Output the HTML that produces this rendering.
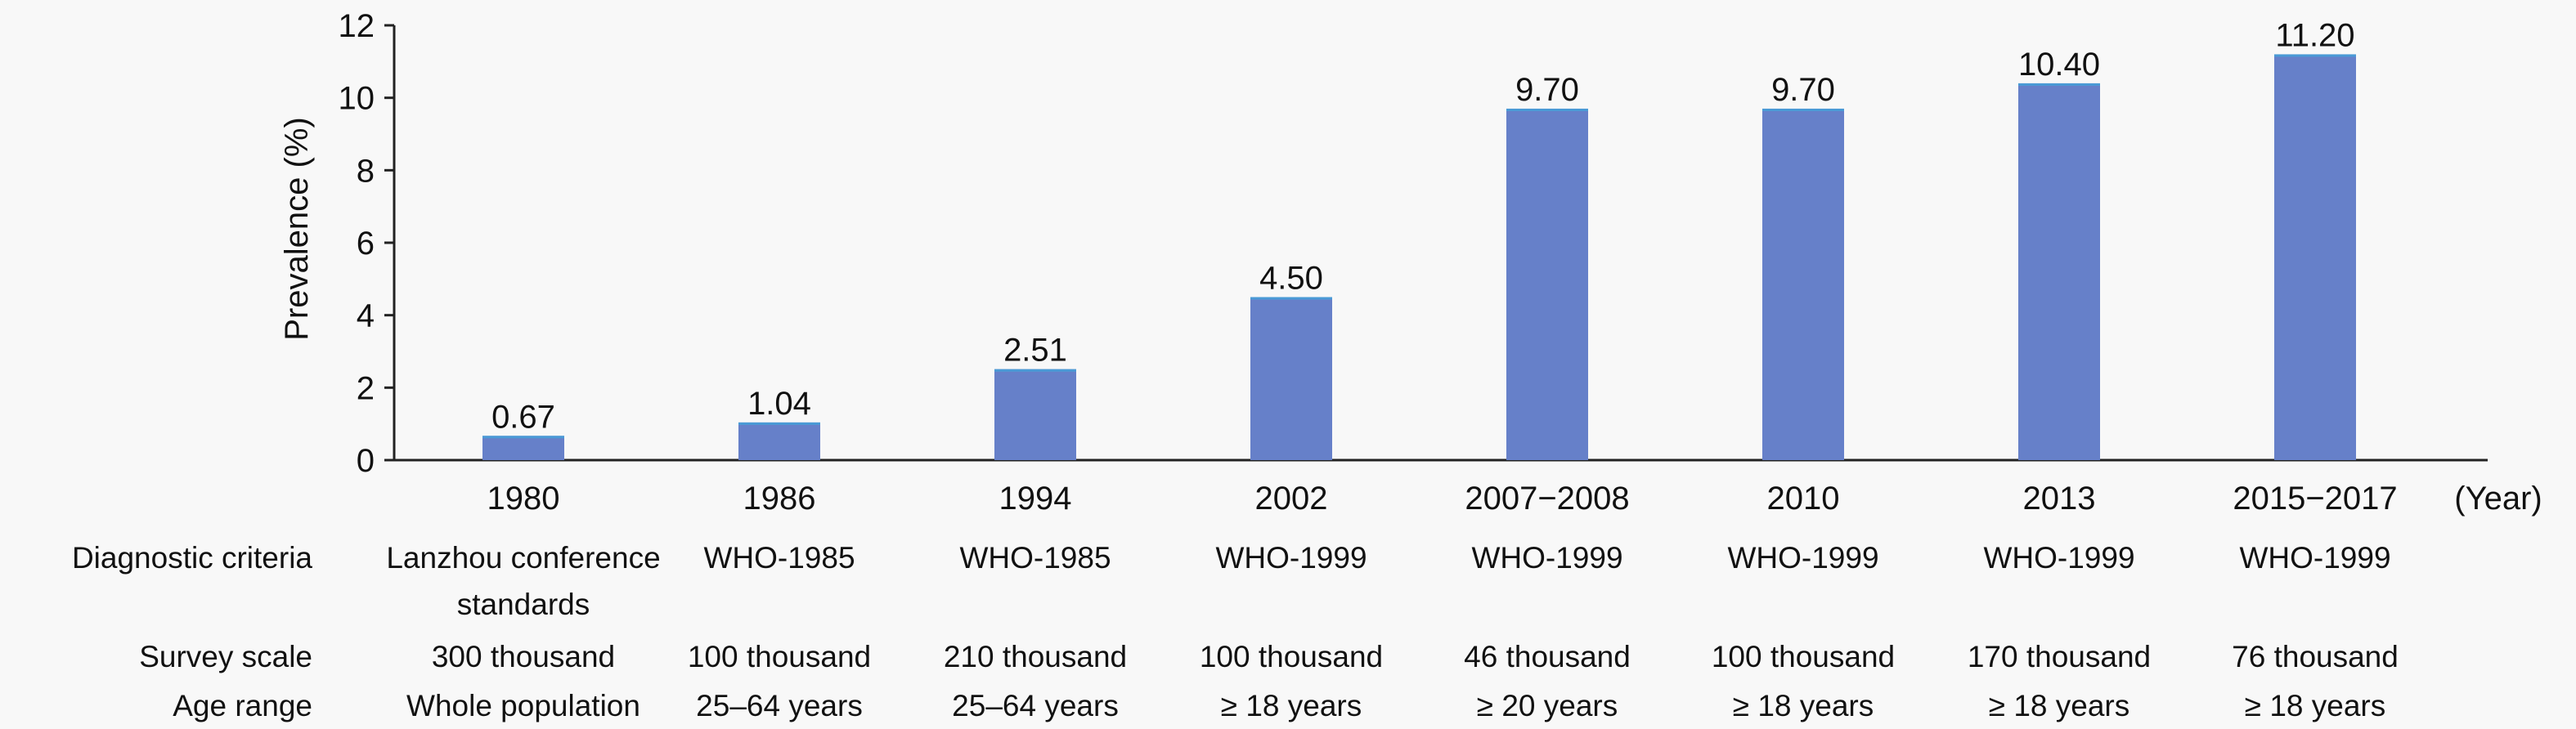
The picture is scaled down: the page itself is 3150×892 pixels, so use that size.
<!DOCTYPE html>
<html><head><meta charset="utf-8"><style>
html,body{margin:0;padding:0;background:#f8f8f8;}
svg{display:block;font-family:"Liberation Sans",sans-serif;}
</style></head><body>
<svg id="chart" width="3150" height="892" viewBox="0 0 3150 892" xmlns="http://www.w3.org/2000/svg">
<rect x="0" y="0" width="3150" height="892" fill="#f8f8f8"/>
<g id="axes"></g>
<g id="bars"></g>
<g id="table"></g>
</svg>
<script>
const categories = ["1980","1986","1994","2002","2007\u22122008","2010","2013","2015\u22122017"];
const values = [0.67,1.04,2.51,4.50,9.70,9.70,10.40,11.20];
const valueLabels = ["0.67","1.04","2.51","4.50","9.70","9.70","10.40","11.20"];
const yTicks = [0,2,4,6,8,10,12];
const criteria = ["Lanzhou conference|standards","WHO-1985","WHO-1985","WHO-1999","WHO-1999","WHO-1999","WHO-1999","WHO-1999"];
const scales = ["300 thousand","100 thousand","210 thousand","100 thousand","46 thousand","100 thousand","170 thousand","76 thousand"];
const ages = ["Whole population","25\u201364 years","25\u201364 years","\u2265 18 years","\u2265 20 years","\u2265 18 years","\u2265 18 years","\u2265 18 years"];

const NS="http://www.w3.org/2000/svg";
const X0=482, X1=3042, Y0=563, Y1=31, yMax=12;
const first=640, step=313, bw=100;
const y = v => Y0 - (v/yMax)*(Y0-Y1);
const x = i => first + i*step;
function mk(tag, attrs, parent, text){
  const e=document.createElementNS(NS,tag);
  for(const k in attrs) e.setAttribute(k, attrs[k]);
  if(text!==undefined) e.textContent=text;
  parent.appendChild(e); return e;
}
const axes=document.getElementById('axes'), bars=document.getElementById('bars'), table=document.getElementById('table');

let a=mk('line',{x1:X0,y1:Y1,x2:X0,y2:Y0,stroke:'#222','stroke-width':3},axes);


yTicks.forEach(t=>{
  const tk=mk('line',{x1:X0-12,y1:y(t),x2:X0,y2:y(t),stroke:'#222','stroke-width':3},axes);
  
  
  const tl=mk('text',{x:458,y:y(t)+14,'text-anchor':'end','font-size':40,fill:'#111'},axes,String(t));
  
  
});
const yt=mk('text',{x:0,y:0,transform:'translate(376,280) rotate(-90)','text-anchor':'middle','font-size':40,fill:'#111'},axes,'Prevalence (%)');



values.forEach((v,i)=>{
  const r=mk('rect',{x:x(i)-bw/2,y:y(v),width:bw,height:Y0-y(v),fill:'#6680c9'},bars);
  
  
  const tl=mk('rect',{x:x(i)-bw/2,y:y(v),width:bw,height:3,fill:'#4a9ad6'},bars);
  
  
  const lb=mk('text',{x:x(i),y:y(v)-10,'text-anchor':'middle','font-size':40,fill:'#111'},bars,valueLabels[i]);
  
  
  const cl=mk('text',{x:x(i),y:623,'text-anchor':'middle','font-size':40,fill:'#111'},axes,categories[i]);
  
  
});
a=mk('line',{x1:X0,y1:Y0,x2:X1,y2:Y0,stroke:'#222','stroke-width':3},axes);


const yr=mk('text',{x:3055,y:623,'text-anchor':'middle','font-size':40,fill:'#111'},axes,'(Year)');



const rows=[["Diagnostic criteria",695,criteria],["Survey scale",816,scales],["Age range",876,ages]];
rows.forEach(([lab,yy,arr])=>{
  const h=mk('text',{x:382,y:yy,'text-anchor':'end','font-size':37,fill:'#111'},table,lab);
  
  
  arr.forEach((s,i)=>{
    const parts=s.split('|');
    parts.forEach((p,j)=>{
      const c=mk('text',{x:x(i),y:yy+j*57,'text-anchor':'middle','font-size':37,fill:'#111'},table,p);
      
      
    });
  });
});
</script>
</body></html>
